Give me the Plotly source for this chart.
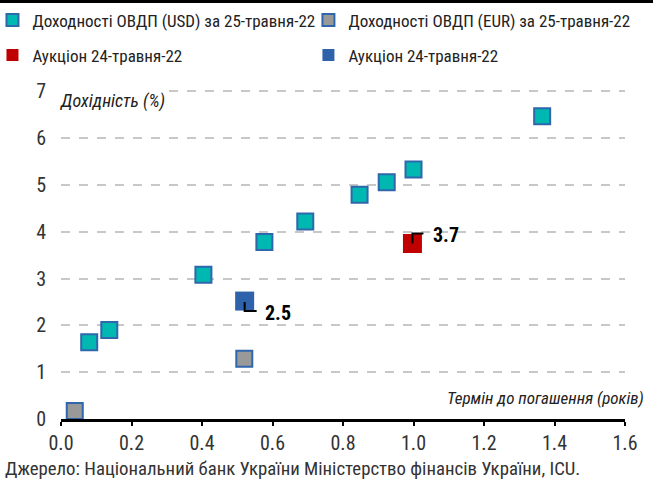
import plotly.graph_objects as go

# ---- data ----
usd_term = [0.08, 0.137, 0.404, 0.577, 0.693, 0.847, 0.924, 1.0, 1.365]
usd_yield = [1.64, 1.90, 3.08, 3.78, 4.22, 4.79, 5.06, 5.33, 6.47]
eur_term = [0.039, 0.52]
eur_yield = [0.17, 1.29]
auc_red_term = [0.997]
auc_red_yield = [3.75]
auc_blue_term = [0.521]
auc_blue_yield = [2.52]
auc_red_label = "3.7"
auc_blue_label = "2.5"
x_ticks = [0.0, 0.2, 0.4, 0.6, 0.8, 1.0, 1.2, 1.4, 1.6]
x_ticklabels = ["0.0", "0.2", "0.4", "0.6", "0.8", "1.0", "1.2", "1.4", "1.6"]
y_ticks = [0, 1, 2, 3, 4, 5, 6, 7]

names = ["Доходності ОВДП (USD) за 25-травня-22",
         "Доходності ОВДП (EUR) за 25-травня-22",
         "Аукціон 24-травня-22",
         "Аукціон 24-травня-22"]

FONT = "Liberation Sans Narrow, Roboto Condensed, DejaVu Sans Condensed, Arial Narrow, Roboto, sans-serif"
TEAL = "#00B8B2"
BORDER = "#2F66AC"
GRAY = "#999999"
RED = "#C00000"
BLUE = "#2E62AB"

fig = go.Figure()
fig.add_trace(go.Scatter(x=usd_term, y=usd_yield, mode="markers", name=names[0],
                         marker=dict(symbol="square", size=16, color=TEAL,
                                     line=dict(color=BORDER, width=2)),
                         legend="legend"))
fig.add_trace(go.Scatter(x=eur_term, y=eur_yield, mode="markers", name=names[1],
                         marker=dict(symbol="square", size=16, color=GRAY,
                                     line=dict(color=BORDER, width=2)),
                         legend="legend2"))
fig.add_trace(go.Scatter(x=auc_red_term, y=auc_red_yield, mode="markers", name=names[2],
                         marker=dict(symbol="square", size=19, color=RED, line=dict(width=0)),
                         legend="legend3"))
fig.add_trace(go.Scatter(x=auc_blue_term, y=auc_blue_yield, mode="markers", name=names[3],
                         marker=dict(symbol="square", size=19, color=BLUE, line=dict(width=0)),
                         legend="legend4"))

# leader lines (pixel-sized paths anchored at data points)
shapes = [
    dict(type="path", xref="x", yref="y", xsizemode="pixel", ysizemode="pixel",
         xanchor=auc_blue_term[0], yanchor=auc_blue_yield[0],
         path="M0,-1 L0,-10 L12,-10", line=dict(color="black", width=2), layer="above"),
    dict(type="path", xref="x", yref="y", xsizemode="pixel", ysizemode="pixel",
         xanchor=auc_red_term[0], yanchor=auc_red_yield[0],
         path="M0,0 L0,10 L11,10", line=dict(color="black", width=2), layer="above"),
    dict(type="line", xref="paper", yref="paper", x0=-0.11, x1=1.06, y0=1.269, y1=1.269,
         line=dict(color="black", width=3)),
]

annotations = [
    dict(x=auc_blue_term[0], y=auc_blue_yield[0], xref="x", yref="y", text="<b>" + auc_blue_label + "</b>",
         showarrow=False, xanchor="left", yanchor="middle", xshift=18, yshift=-12,
         font=dict(family=FONT, size=20, color="black")),
    dict(x=auc_red_term[0], y=auc_red_yield[0], xref="x", yref="y", text="<b>" + auc_red_label + "</b>",
         showarrow=False, xanchor="left", yanchor="middle", xshift=19, yshift=9,
         font=dict(family=FONT, size=20, color="black")),
    dict(x=-0.006, y=0.9654, xref="paper", yref="paper", text="<i>Дохідність (%)</i>",
         showarrow=False, xanchor="left", yanchor="middle", bgcolor="white",
         font=dict(family=FONT, size=18, color="#222222")),
    dict(x=1.038, y=0.0638, xref="paper", yref="paper", text="<i>Термін до погашення (років)</i>",
         showarrow=False, xanchor="right", yanchor="middle",
         font=dict(family=FONT, size=17, color="#222222")),
    dict(x=-0.102, y=-0.1518, xref="paper", yref="paper",
         text="Джерело: Національний банк України Міністерство фінансів України, ICU.",
         showarrow=False, xanchor="left", yanchor="middle",
         font=dict(family=FONT, size=18.8, color="#333333")),
]

legend_common = dict(orientation="h", xanchor="left", yanchor="middle", itemsizing="constant",
                     bgcolor="rgba(0,0,0,0)", borderwidth=0,
                     font=dict(family=FONT, size=17, color="#222222"))

COL1 = -0.1215   # paper x of first legend column
COL2 = 0.4387    # paper x of second legend column
ROW1 = 1.2113
ROW2 = 1.1051

fig.update_layout(
    width=653, height=481,
    margin=dict(l=60.5, r=28.3, t=89.6, b=62, autoexpand=False),
    paper_bgcolor="white", plot_bgcolor="white",
    font=dict(family=FONT, size=15, color="#333333"),
    showlegend=True,
    legend=dict(x=COL1, y=ROW1, **legend_common),
    legend2=dict(x=COL2, y=ROW1, **legend_common),
    legend3=dict(x=COL1, y=ROW2, **legend_common),
    legend4=dict(x=COL2, y=ROW2, **legend_common),
    shapes=shapes,
    annotations=annotations,
    xaxis=dict(range=[0, 1.6], tickvals=x_ticks, ticktext=x_ticklabels,
               showgrid=False, zeroline=False, showline=True, linecolor="black", linewidth=2.5,
               ticks="outside", ticklen=4, tickwidth=2, tickcolor="black",
               tickfont=dict(family=FONT, size=20, color="#333333")),
    yaxis=dict(range=[0, 7.03], tickvals=y_ticks, showgrid=True, gridcolor="#C8C8C8",
               griddash="dash", gridwidth=1.5, zeroline=False, showline=False,
               ticks="", ticklabelstandoff=14,
               tickfont=dict(family=FONT, size=20, color="#333333")),
)

fig.write_html("out.html", config={"displayModeBar": False},
               post_script="document.body.style.margin='0';")
